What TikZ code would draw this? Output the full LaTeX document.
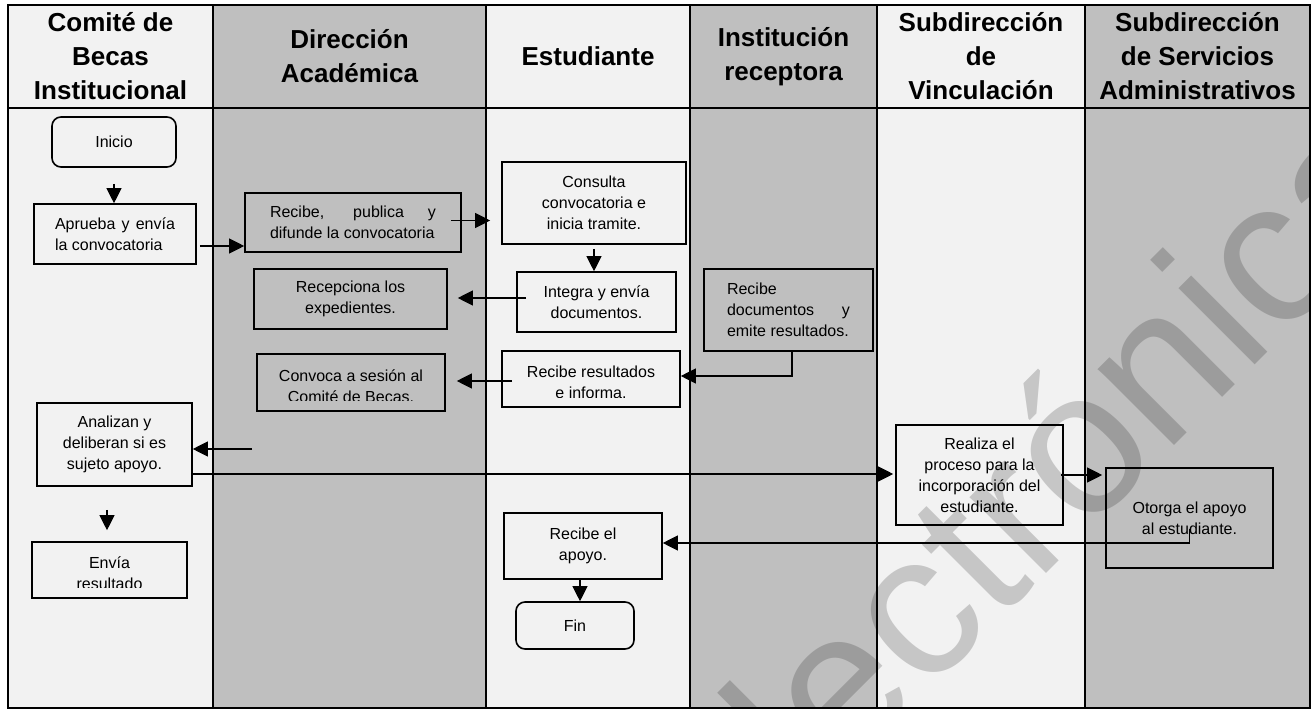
\documentclass[tikz,border=0pt]{standalone}
\usepackage{fontspec}
\setmainfont{Liberation Sans}
\usetikzlibrary{arrows.meta,positioning}
\definecolor{laneA}{HTML}{F2F2F2}
\definecolor{laneB}{HTML}{BFBFBF}
\hyphenpenalty=10000
\begin{document}
\begin{tikzpicture}[x=1pt, y=-1pt, >={Triangle[length=15pt,width=15pt]},
  box/.style={rectangle, draw, line width=1.6pt, inner sep=0pt, align=center, font=\fontsize{16}{21}\selectfont},
  term/.style={box, rounded corners=9pt},
  txt/.style={inner sep=0pt, align=center, font=\fontsize{16}{21}\selectfont},
  head/.style={inner sep=0pt, align=center, font=\fontsize{26}{34}\selectfont\bfseries},
  flow/.style={->, line width=1.1pt}]
\useasboundingbox (0,0) rectangle (1314,711);
\fill[laneA] (8,5) rectangle (213,708);
\fill[laneB] (213,5) rectangle (486,708);
\fill[laneA] (486,5) rectangle (690,708);
\fill[laneB] (690,5) rectangle (877,708);
\fill[laneA] (877,5) rectangle (1085,708);
\fill[laneB] (1085,5) rectangle (1310,708);
\draw[line width=1.8pt] (213,5) -- (213,708) (486,5) -- (486,708) (690,5) -- (690,708)
  (877,5) -- (877,708) (1085,5) -- (1085,708);
\draw[line width=2.4pt] (8,108) -- (1310,108);
\draw[line width=2.4pt] (8,5) rectangle (1310,708);
\node[head] (h1) at (110.5,56.5) {Comité de\\Becas\\Institucional};
\node[head] (h2) at (349.5,56.5) {Dirección\\Académica};
\node[head] (h3) at (588,56.5) {Estudiante};
\node[head] (h4) at (783.5,56.5) {Institución\\receptora};
\node[head] (h5) at (981,56.5) {Subdirección\\de\\Vinculación};
\node[head] (h6) at (1197.5,56.5) {Subdirección\\de Servicios\\Administrativos};
\node[term, minimum width=124pt, minimum height=50pt] (A) at (114,142) {Inicio};
\node[box, minimum width=162pt, minimum height=60pt, text width=120pt, align=justify] (B) at (115,234) {Aprueba y envía\linebreak la convocatoria};
\node[box, minimum width=216pt, minimum height=59pt, text width=166pt, align=justify] (C) at (353,222.5) {Recibe, publica y\linebreak \mbox{difunde la convocatoria}};
\node[box, minimum width=184pt, minimum height=82pt] (D) at (594,203) {Consulta\\convocatoria e\\inicia tramite.};
\node[box, minimum width=159pt, minimum height=60pt] (E) at (596.5,302) {Integra y envía\\documentos.};
\node[box, minimum width=193pt, minimum height=60pt] (F) at (350.5,299) {Recepciona los\\expedientes.};
\node[box, minimum width=169pt, minimum height=82pt, text width=123pt, align=justify] (G) at (788.5,310) {Recibe\newline documentos y\linebreak emite resultados.};
\node[box, minimum width=178pt, minimum height=56pt] (H) at (591,379) {};
\begin{scope}
\clip (H.north west) rectangle ([yshift=10.5pt]H.south east);
\node[txt] at ([yshift=-3.5pt]H.center) {Recibe resultados\\e informa.};
\end{scope}
\node[box, minimum width=188pt, minimum height=57pt] (I) at (351,382.5) {};
\begin{scope}
\clip (I.north west) rectangle ([yshift=11pt]I.south east);
\node[txt] at ([yshift=-4pt]I.center) {Convoca a sesión al\\Comité de Becas.};
\end{scope}
\node[box, minimum width=155pt, minimum height=83pt] (J) at (114.5,444.5) {Analizan y\\deliberan si es\\sujeto apoyo.};
\node[box, minimum width=155pt, minimum height=56pt] (L) at (109.5,570) {};
\begin{scope}
\clip (L.north west) rectangle ([yshift=11pt]L.south east);
\node[txt] at ([yshift=-3pt]L.center) {Envía\\resultado};
\end{scope}
\node[box, minimum width=167pt, minimum height=100pt] (K) at (979.5,475) {Realiza el\\proceso para la\\incorporación del\\estudiante.};
\node[box, minimum width=167pt, minimum height=100pt] (M) at (1189.5,518) {Otorga el apoyo\\al estudiante.};
\node[box, minimum width=158pt, minimum height=66pt] (N) at (583,546) {Recibe el\\apoyo.};
\node[term, minimum width=118pt, minimum height=47pt] (O) at (575,625.5) {Fin};
\coordinate (c1) at (252,449);
\draw[flow, shorten <=16pt] (A.south) -- (A.south |- B.north);
\draw[flow, shorten <=3pt] ([yshift=-12pt]B.east) -- ([yshift=-12pt]B.east -| C.west);
\draw[flow] ([shift={(-11pt,2pt)}]C.east) -- ([shift={(-11pt,2pt)}]C.east -| D.west);
\draw[flow, shorten <=4pt] (D.south) -- (D.south |- E.north);
\draw[flow] ([shift={(10pt,4pt)}]E.west) -- ([shift={(10pt,4pt)}]E.west -| F.east);
\draw[flow] ([xshift=3.5pt]G.south) |- ([yshift=3pt]H.east);
\draw[flow] ([shift={(11pt,-2pt)}]H.west) -- ([shift={(11pt,-2pt)}]H.west -| I.east);
\draw[flow] (c1) -- (c1 -| J.east);
\draw[flow] ([shift={(-2pt,-29.5pt)}]J.east) -- ([shift={(-2pt,-29.5pt)}]J.east -| K.west);
\draw[flow, shorten <=23pt, shorten >=11pt] ([xshift=-2.5pt]L.north |- J.south) -- ([xshift=-2.5pt]L.north);
\draw[flow] ([xshift=-3pt]K.east) -- ([xshift=-3pt]K.east -| M.west);
\draw[flow] ([yshift=-11pt]M.center) |- ([yshift=3pt]N.east);
\draw[flow] ([xshift=-3pt]N.south) -- ([xshift=-3pt]N.south |- O.north);
\begin{scope}
\clip (8,5) rectangle (1310,708);
\node[anchor=base west, inner sep=0pt, rotate=45, text=black, opacity=0.18, font=\fontsize{204}{204}\selectfont] (wm) at (812,808) {lectrónica};
\end{scope}
\end{tikzpicture}
\end{document}
